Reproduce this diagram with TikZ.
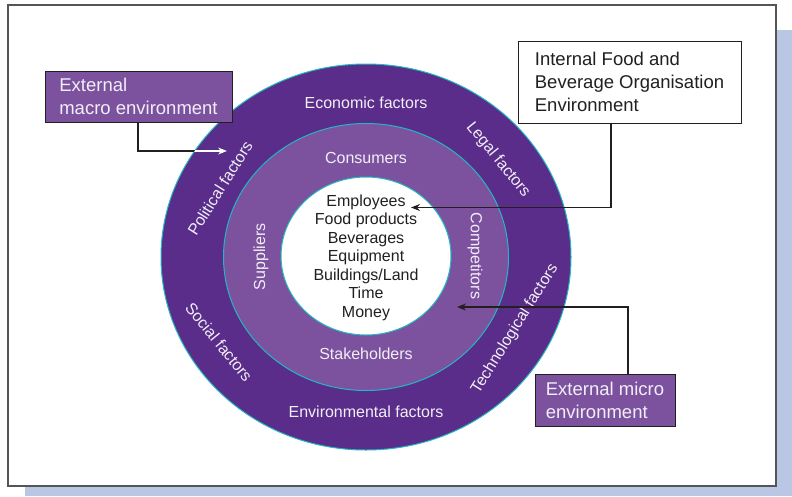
\documentclass[tikz,border=0pt]{standalone}
\usepackage{fontspec}
\setmainfont{Liberation Sans}
\usetikzlibrary{arrows.meta,positioning}

\definecolor{ringdark}{HTML}{5A2D8A}
\definecolor{ringlight}{HTML}{7C529F}
\definecolor{ringedge}{HTML}{22B8C2}
\definecolor{shadowblue}{HTML}{B9C7E4}
\definecolor{framegray}{HTML}{555555}
\definecolor{inktext}{HTML}{231F20}
\definecolor{paletext}{HTML}{F2EEF6}

\begin{document}
\begin{tikzpicture}[x=1pt,y=-1pt,
    every node/.style={font=\fontsize{16}{18.5}\selectfont},
    ringlabel/.style={text=paletext},
    envbox/.style={draw=inktext, line width=1pt, align=left, inner sep=0pt,
        font=\fontsize{18.5}{23}\selectfont},
    feedline/.style={draw=inktext, line width=1.1pt, -{Stealth[length=9pt,width=7pt]}},
]
    \useasboundingbox (0,0) rectangle (792,496);

    % page with shadow
    \fill[shadowblue] (25,30) rectangle (792,496);
    \draw[framegray, line width=1.5pt, fill=white] (8,5) rectangle (776,486);

    % the three environments
    \draw[ringedge, fill=ringdark, line width=1pt] (366,257) ellipse [x radius=205, y radius=193];
    \draw[ringedge, fill=ringlight, line width=1pt] (366,257) ellipse [x radius=142.5, y radius=133.5];
    \draw[ringedge, fill=white, line width=1pt] (366,256) ellipse [x radius=85, y radius=79];

    % macro ring
    \node[ringlabel] (economic) at (366,103) {Economic factors};
    \node[ringlabel] (environmental) at (366,412) {Environmental factors};
    \node[ringlabel, rotate=58] (political) at (220,188) {Political factors};
    \node[ringlabel, rotate=-51] (legal) at (498,160) {Legal factors};
    \node[ringlabel, rotate=-51] (social) at (219,342) {Social factors};
    \node[ringlabel, rotate=58] (technological) at (515,329) {Technological factors};

    % micro ring
    \node[ringlabel] (consumers) at (366,158) {Consumers};
    \node[ringlabel] (stakeholders) at (366,354) {Stakeholders};
    \node[ringlabel, rotate=90] (suppliers) at (261,257) {Suppliers};
    \node[ringlabel, rotate=-90] (competitors) at (475,256) {Competitors};

    % internal resources
    \node[align=center, text=inktext] (resources) at (366,257.5)
        {Employees\\Food products\\Beverages\\Equipment\\Buildings/Land\\Time\\Money};

    % callout boxes
    \node[envbox, fill=ringlight, text=paletext, minimum width=187pt, minimum height=51pt]
        (macro) at (138.5,96.5) {External\\macro environment};
    \node[envbox, fill=white, text=inktext, minimum width=223pt, minimum height=82pt]
        (internal) at (629.5,82) {Internal Food and\\Beverage Organisation\\Environment};
    \node[envbox, fill=ringlight, text=paletext, minimum width=140pt, minimum height=52pt]
        (micro) at (605,400) {External micro\\environment};

    % callout lines
    \coordinate (macroturn) at (138,151);
    \coordinate (macroend) at (227,151);
    \coordinate (internalturn) at (611,0);
    \coordinate (internalend) at (411,207.5);
    \coordinate (microturn) at (628,0);
    \coordinate (microend) at (457,307);

    \draw[feedline] (macro.south -| macroturn) |- (macroend);
    \begin{scope}
        \clip (366,257) ellipse [x radius=205, y radius=193];
        \draw[feedline, draw=white] (macro.south -| macroturn) |- (macroend);
    \end{scope}
    \draw[feedline] (internal.south -| internalturn) |- (internalend);
    \draw[feedline] (micro.north -| microturn) |- (microend);
\end{tikzpicture}
\end{document}
